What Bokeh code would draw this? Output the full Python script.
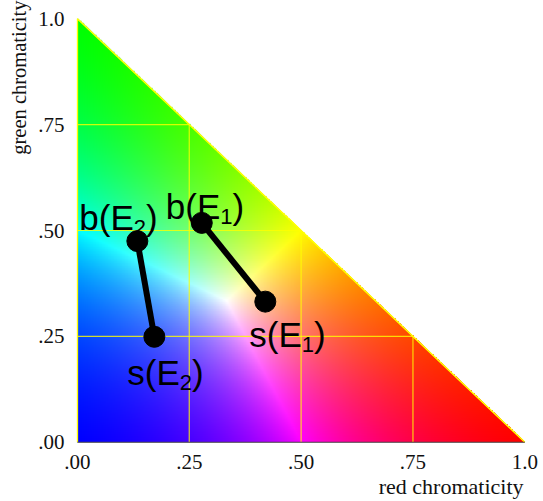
import numpy as np
from bokeh.plotting import figure
from bokeh.models import FixedTicker, ColumnDataSource, Range1d, Title
from bokeh.core.properties import value
from bokeh.embed import file_html
from bokeh.resources import INLINE

# tick positions and their printed labels
tick_values = [0.0, 0.25, 0.5, 0.75, 1.0]
tick_labels = [".00", ".25", ".50", ".75", "1.0"]
grid_values = [0.25, 0.5, 0.75]

# chromaticity coordinates (red, green) of the two illuminant pairs
point_names = ["b", "s", "b", "s"]
point_subs = ["1", "1", "2", "2"]
red_chrom = [0.278, 0.420, 0.134, 0.172]
green_chrom = [0.518, 0.332, 0.475, 0.249]

p = figure(width=543, height=501, output_backend="svg", toolbar_location=None,
           x_range=Range1d(-0.002, 1.006), y_range=Range1d(-0.003, 1.003),
           min_border_left=75, min_border_right=16, min_border_top=17, min_border_bottom=58)
p.outline_line_color = None
p.xgrid.visible = False
p.ygrid.visible = False
p.background_fill_color = "white"

# colour fill of the chromaticity triangle: (r, g, b) scaled so the largest channel is 1
n = 600
rr, gg = np.meshgrid((np.arange(n) + 0.5) / n, (np.arange(n) + 0.5) / n)
bb = 1.0 - rr - gg
inside = bb >= -0.5 / n
bb = np.clip(bb, 0, 1)
mx = np.maximum(np.maximum(rr, gg), bb)
gamma = 1.15
rgb = np.stack([(rr / mx) ** gamma, (gg / mx) ** gamma, (bb / mx) ** gamma], axis=-1)
img = np.zeros((n, n), dtype=np.uint32)
view = img.view(dtype=np.uint8).reshape((n, n, 4))
view[..., 0] = (rgb[..., 0] * 255).astype(np.uint8)
view[..., 1] = (rgb[..., 1] * 255).astype(np.uint8)
view[..., 2] = (rgb[..., 2] * 255).astype(np.uint8)
view[..., 3] = np.where(inside, 255, 0).astype(np.uint8)
p.image_rgba(image=[img], x=0, y=0, dw=1, dh=1)

# yellow grid lines kept inside the triangle
gx0 = grid_values + [0.0] * len(grid_values)
gy0 = [0.0] * len(grid_values) + grid_values
gx1 = grid_values + [1 - v for v in grid_values]
gy1 = [1 - v for v in grid_values] + grid_values
p.segment(x0=gx0, y0=gy0, x1=gx1, y1=gy1, line_color="#ffff00", line_alpha=0.8, line_width=1.2)

# triangle edges
p.line(x=[0, 0, 1], y=[0, 1, 0], line_color="#ffff00", line_width=1.5)
p.line(x=[0, 1], y=[0, 0], line_color="#444444", line_width=1.2)

# connecting segments and dots
p.line(x=red_chrom[0:2], y=green_chrom[0:2], line_color="black", line_width=6)
p.line(x=red_chrom[2:4], y=green_chrom[2:4], line_color="black", line_width=6)
p.scatter(x=red_chrom, y=green_chrom, size=21, fill_color="black", line_color="black")

# labels built from a main part, a lowered subscript and a closing parenthesis
main_size = 35
sub_size = 22
adv = {"b": 0.556, "s": 0.5, "(": 0.333, "E": 0.667, ")": 0.333, "1": 0.556, "2": 0.556}
dx = [-36, -16, -58, -27]
dy = [-16, 33, -24, 36]
prefix = [nm + "(E" for nm in point_names]
pre_w = [sum(adv[c] for c in t) * main_size for t in prefix]
sub_w = [adv[s] * sub_size for s in point_subs]
src = ColumnDataSource(dict(
    x=red_chrom, y=green_chrom, prefix=prefix, sub=point_subs, close=[")"] * 4,
    dx=dx, dy=dy,
    dx_sub=[a + w for a, w in zip(dx, pre_w)], dy_sub=[b + 10 for b in dy],
    dx_close=[a + w + s for a, w, s in zip(dx, pre_w, sub_w)],
))
font = value("Liberation Sans")
p.text(x="x", y="y", text="prefix", x_offset="dx", y_offset="dy", source=src,
       text_font=font, text_font_size=f"{main_size}px", text_baseline="alphabetic",
       text_align="left", text_color="black")
p.text(x="x", y="y", text="sub", x_offset="dx_sub", y_offset="dy_sub", source=src,
       text_font=font, text_font_size=f"{sub_size}px", text_baseline="alphabetic",
       text_align="left", text_color="black")
p.text(x="x", y="y", text="close", x_offset="dx_close", y_offset="dy", source=src,
       text_font=font, text_font_size=f"{main_size}px", text_baseline="alphabetic",
       text_align="left", text_color="black")

# axes: tick labels only
overrides = {v: t for v, t in zip(tick_values, tick_labels)}
for ax in (p.xaxis[0], p.yaxis[0]):
    ax.ticker = FixedTicker(ticks=tick_values)
    ax.major_label_overrides = overrides
    ax.axis_line_color = None
    ax.major_tick_line_color = None
    ax.minor_tick_line_color = None
    ax.major_tick_in = 0
    ax.major_tick_out = 0
    ax.major_label_text_font = "Liberation Serif"
    ax.major_label_text_font_size = "21px"
    ax.major_label_text_color = "#111111"
p.xaxis.major_label_standoff = 11
p.yaxis.major_label_standoff = 12

# axis titles, aligned to the far ends of the axes
p.add_layout(Title(text="red chromaticity", align="right", offset=4,
                   text_font="Liberation Serif", text_font_size="22px",
                   text_font_style="normal", text_color="#111111", standoff=0), "below")
p.add_layout(Title(text="green chromaticity", align="right", offset=-17,
                   text_font="Liberation Serif", text_font_size="20.5px",
                   text_font_style="normal", text_color="#111111", standoff=11), "left")

open("out.html", "w").write(file_html(p, INLINE))
